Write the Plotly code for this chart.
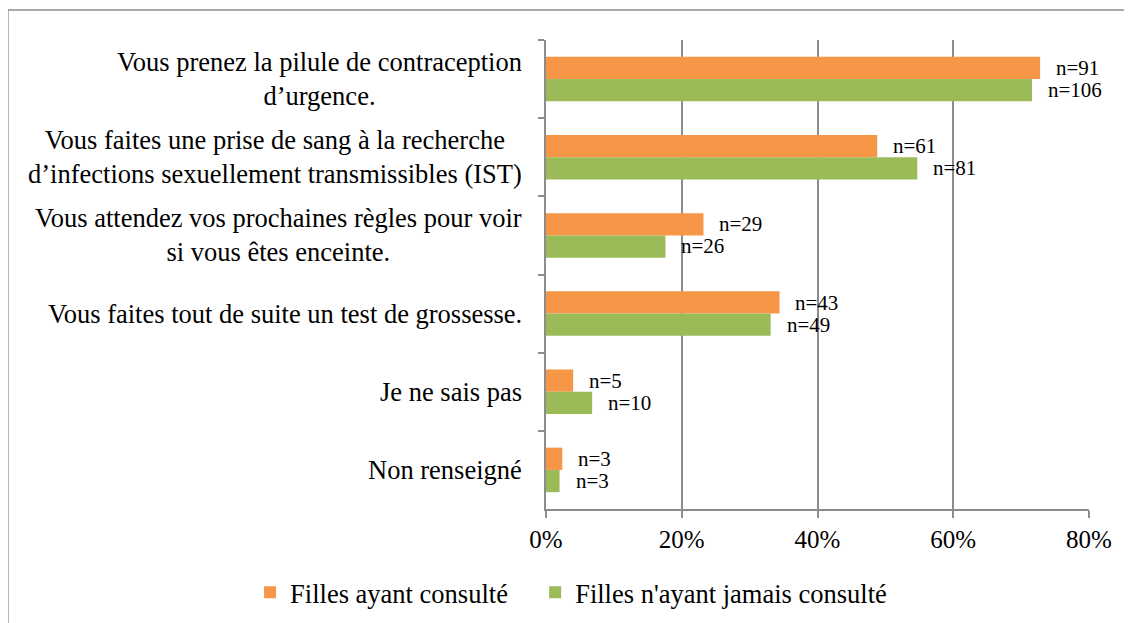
import plotly.graph_objects as go

# categories, top to bottom
categories = [
    "Vous prenez la pilule de contraception<br>d’urgence.",
    "Vous faites une prise de sang à la recherche<br>d’infections sexuellement transmissibles (IST)",
    "Vous attendez vos prochaines règles pour voir<br>si vous êtes enceinte.",
    "Vous faites tout de suite un test de grossesse.",
    "Je ne sais pas",
    "Non renseigné",
]

# share of girls (fraction)
consulted_pct = [0.728, 0.488, 0.232, 0.344, 0.040, 0.024]
never_pct = [0.716, 0.547, 0.176, 0.331, 0.068, 0.020]

# counts shown next to the bars
consulted_n = [91, 61, 29, 43, 5, 3]
never_n = [106, 81, 26, 49, 10, 3]

x_ticks = [0, 0.2, 0.4, 0.6, 0.8]
x_tick_labels = ["0%", "20%", "40%", "60%", "80%"]

ORANGE = "#F79646"
GREEN = "#9BBB59"
GRID = "#8C8C8C"
FONT = "'Liberation Serif', 'Times New Roman', Times, 'DejaVu Serif', serif"

fig = go.Figure()

fig.add_trace(go.Bar(y=categories, x=consulted_pct, orientation="h",
                     name="Filles ayant consulté", legend="legend",
                     showlegend=True,
                     marker=dict(color=ORANGE, line=dict(width=0))))

fig.add_trace(go.Bar(y=categories, x=never_pct, orientation="h",
                     name="Filles n'ayant jamais consulté", legend="legend2",
                     showlegend=True,
                     marker=dict(color=GREEN, line=dict(width=0))))

annotations = []

# category labels (centered multi-line, like the original)
for cat in categories:
    annotations.append(dict(x=0, y=cat, xref="paper", yref="y",
                            text=cat, showarrow=False, xanchor="right",
                            align="center", xshift=-22,
                            font=dict(family=FONT, size=26.5, color="black")))

# n= labels
for cat, val, n in zip(categories, consulted_pct, consulted_n):
    annotations.append(dict(x=val, y=cat, text="n=%d" % n, showarrow=False,
                            xanchor="left", xshift=14, yshift=11,
                            font=dict(family=FONT, size=21, color="black")))
for cat, val, n in zip(categories, never_pct, never_n):
    annotations.append(dict(x=val, y=cat, text="n=%d" % n, showarrow=False,
                            xanchor="left", xshift=14, yshift=-11,
                            font=dict(family=FONT, size=21, color="black")))

legend_style = dict(orientation="h", xanchor="left", y=-0.178, yanchor="middle",
                    font=dict(family=FONT, size=26.5, color="black"),
                    itemwidth=30, visible=True)

fig.update_layout(
    width=1132, height=623,
    # page body has an 8px margin, so the plot area is shifted to match
    margin=dict(l=538, r=51, t=32, b=122),
    paper_bgcolor="white", plot_bgcolor="white",
    barmode="group", bargap=0.43, bargroupgap=0,
    font=dict(family=FONT, size=25, color="black"),
    showlegend=True,
    annotations=annotations,
    legend=dict(x=-0.545, **legend_style),
    legend2=dict(x=-0.020, **legend_style),
    shapes=[dict(type="rect", xref="paper", yref="paper",
                 x0=-0.991, x1=1.09, y0=-0.35, y1=1.064,
                 line=dict(color="#8C8C8C", width=1.5), layer="below")],
)

fig.update_xaxes(range=[0, 0.8], tickvals=x_ticks, ticktext=x_tick_labels,
                 showgrid=True, gridcolor=GRID, gridwidth=1.5,
                 showline=True, linecolor=GRID, linewidth=1.5,
                 ticks="outside", ticklen=7, tickcolor=GRID, tickwidth=1.5,
                 zeroline=False, fixedrange=True,
                 tickfont=dict(family=FONT, size=25, color="black"))

fig.update_yaxes(autorange="reversed", showticklabels=False,
                 showline=True, linecolor=GRID, linewidth=1.5,
                 ticks="outside", ticklen=6, tickcolor=GRID, tickwidth=1.5,
                 tickson="boundaries", showgrid=False, fixedrange=True)

fig.write_html("out.html")
